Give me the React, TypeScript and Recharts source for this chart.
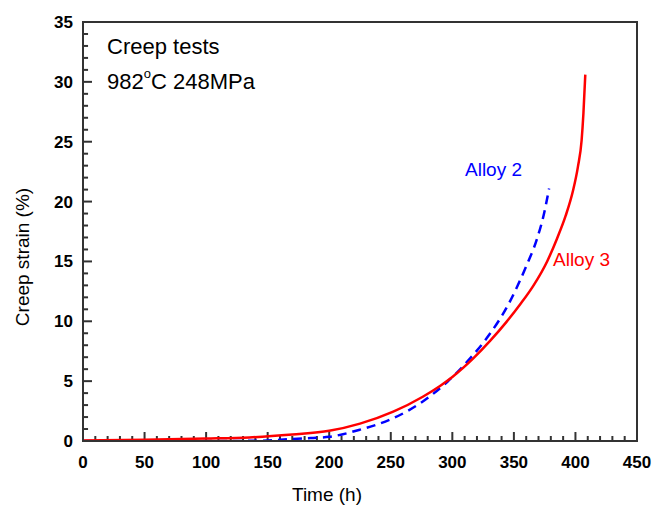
import React from 'react';
import { ComposedChart, Line, XAxis, YAxis, ReferenceLine, ReferenceArea } from 'recharts';

// Alloy 3 (red, solid)
const alloy3Time = [0, 50, 100, 135, 170, 200, 225, 252, 276, 290, 300, 317, 331, 344, 355, 366, 377, 385, 392, 398, 402, 405, 406.5, 408];
const alloy3Strain = [0.05, 0.1, 0.2, 0.3, 0.55, 0.85, 1.45, 2.45, 3.7, 4.6, 5.35, 6.9, 8.4, 9.95, 11.4, 13.0, 15.0, 16.9, 18.8, 20.9, 22.9, 25.1, 27.4, 30.6];

// Alloy 2 (blue, dashed)
const alloy2Time = [0, 100, 144, 168, 185, 200, 225, 252, 276, 296, 317, 328, 346, 360, 368.5, 374.5, 378.6];
const alloy2Strain = [0, 0, 0.02, 0.15, 0.25, 0.35, 0.95, 1.9, 3.3, 4.95, 7.2, 8.6, 11.5, 14.6, 16.8, 19.0, 21.1];

const xMajor = [0, 50, 100, 150, 200, 250, 300, 350, 400, 450];
const yMajor = [0, 5, 10, 15, 20, 25, 30, 35];
const xMinor = Array.from({ length: 46 }, (_, i) => i * 10).filter((v) => v % 50 !== 0);
const yMinor = Array.from({ length: 36 }, (_, i) => i).filter((v) => v % 5 !== 0);

const alloy3 = alloy3Time.map((t, i) => ({ t, v: alloy3Strain[i] }));
const alloy2 = alloy2Time.map((t, i) => ({ t, v: alloy2Strain[i] }));

const FONT = "Arial, 'Liberation Sans', sans-serif";
const AXIS = '#333';

const XLabel = (props: any) => {
  const { x, y, payload } = props;
  return (
    <text x={x} y={y + 27} textAnchor="middle" fontFamily={FONT} fontWeight="bold" fontSize={17} fill="#000">
      {payload.value}
    </text>
  );
};

const YLabel = (props: any) => {
  const { x, y, payload } = props;
  return (
    <text x={x - 10} y={y + 6} textAnchor="end" fontFamily={FONT} fontWeight="bold" fontSize={17} fill="#000">
      {payload.value}
    </text>
  );
};

const label: React.CSSProperties = { position: 'absolute', fontFamily: FONT, whiteSpace: 'nowrap', lineHeight: 1 };

export default function App() {
  return (
    <div style={{ position: 'absolute', left: 0, top: 0, width: 653, height: 505, background: '#fff' }}>
      <ComposedChart width={653} height={505} margin={{ top: 22, right: 16, bottom: 0, left: 0 }}>
        <XAxis
          dataKey="t"
          type="number"
          domain={[0, 450]}
          ticks={xMajor}
          interval={0}
          tickSize={0}
          tickMargin={0}
          tickLine={false}
          tick={<XLabel />}
          height={64}
          axisLine={{ stroke: AXIS, strokeWidth: 2 }}
          allowDataOverflow
        />
        <YAxis
          type="number"
          domain={[0, 35]}
          ticks={yMajor}
          interval={0}
          tickSize={0}
          tickMargin={0}
          tickLine={false}
          tick={<YLabel />}
          width={83}
          axisLine={{ stroke: AXIS, strokeWidth: 2 }}
          allowDataOverflow
        />
        <ReferenceArea x1={0} x2={450} y1={0} y2={35} fill="none" stroke={AXIS} strokeWidth={2} fillOpacity={0} />
        {xMajor.map((t) => (
          <ReferenceLine key={'xM' + t} ifOverflow="visible" segment={[{ x: t, y: 0 }, { x: t, y: 0.75 }]} stroke={AXIS} strokeWidth={2} />
        ))}
        {xMinor.map((t) => (
          <ReferenceLine key={'xm' + t} ifOverflow="visible" segment={[{ x: t, y: 0 }, { x: t, y: 0.42 }]} stroke={AXIS} strokeWidth={2} />
        ))}
        {yMajor.map((v) => (
          <ReferenceLine key={'yM' + v} ifOverflow="visible" segment={[{ x: 0, y: v }, { x: 7.3, y: v }]} stroke={AXIS} strokeWidth={2} />
        ))}
        {yMinor.map((v) => (
          <ReferenceLine key={'ym' + v} ifOverflow="visible" segment={[{ x: 0, y: v }, { x: 4.1, y: v }]} stroke={AXIS} strokeWidth={2} />
        ))}
        <Line data={alloy2} dataKey="v" type="monotone" stroke="#0000ff" strokeWidth={2.5} strokeDasharray="9 6" dot={false} isAnimationActive={false} />
        <Line data={alloy3} dataKey="v" type="monotone" stroke="#ff0000" strokeWidth={2.5} dot={false} isAnimationActive={false} />
      </ComposedChart>
      <div style={{ ...label, left: 107, top: 36, fontSize: 22 }}>Creep tests</div>
      <div style={{ ...label, left: 107, top: 71, fontSize: 22 }}>
        982<sup style={{ fontSize: 13, verticalAlign: 'top', position: 'relative', top: -4 }}>o</sup>C 248MPa
      </div>
      <div style={{ ...label, left: 465, top: 160, fontSize: 19, color: '#0000ff' }}>Alloy 2</div>
      <div style={{ ...label, left: 553, top: 250, fontSize: 19, color: '#ff0000' }}>Alloy 3</div>
      <div style={{ ...label, left: 292, top: 485, fontSize: 19 }}>Time (h)</div>
      <div style={{ ...label, left: 22, top: 257, fontSize: 19, transform: 'translate(-50%, -50%) rotate(-90deg)' }}>Creep strain (%)</div>
    </div>
  );
}
